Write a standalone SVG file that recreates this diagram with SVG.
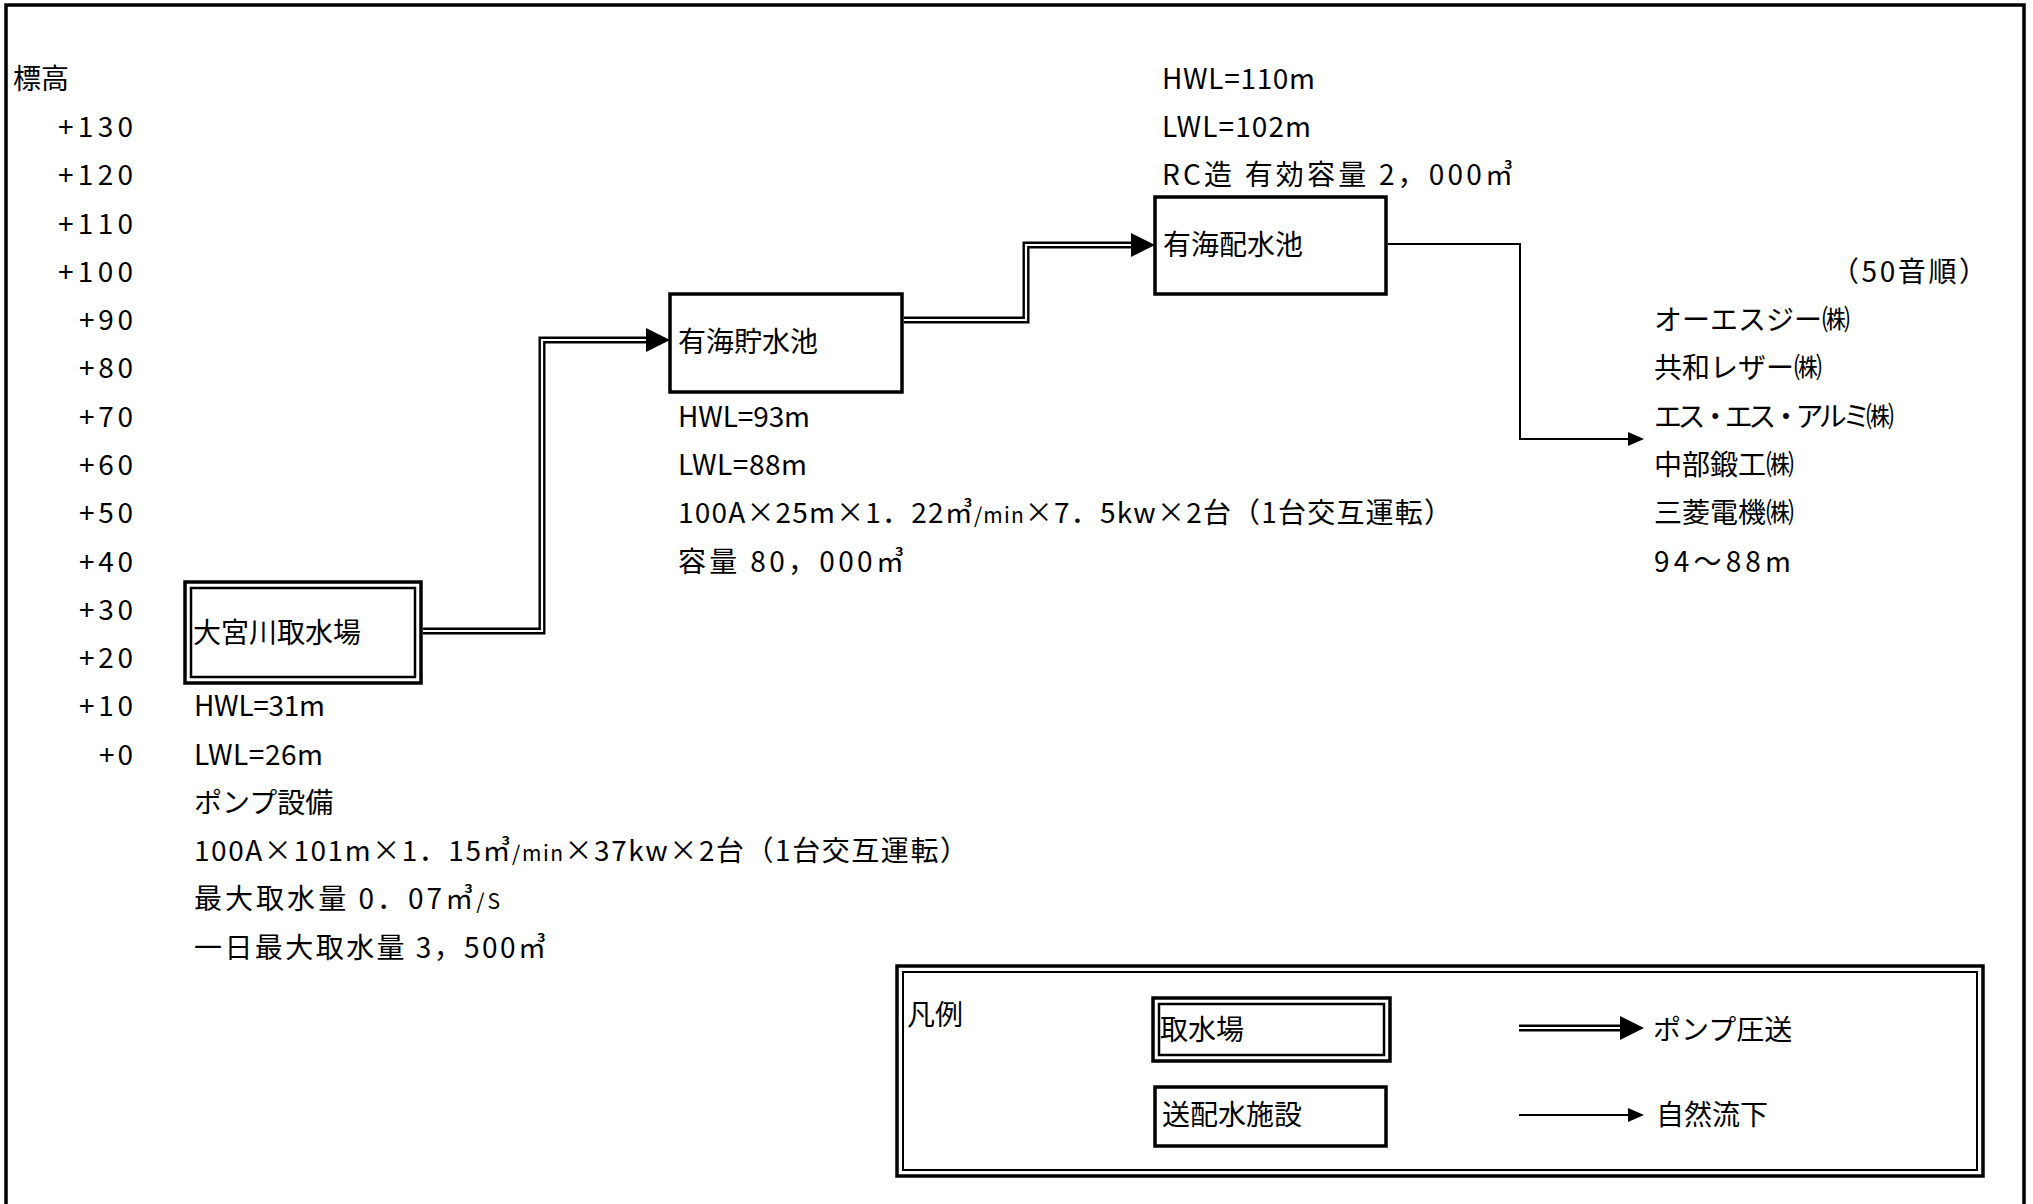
<svg xmlns="http://www.w3.org/2000/svg" width="2033" height="1204" viewBox="0 0 2033 1204">
<defs>
<style>
text { font-family: "Noto Sans CJK JP", "Noto Sans", sans-serif; font-size: 28px; fill: #000; }
.el { text-anchor: end; }
.sm { font-size: 21px; }
.box { fill: #fff; stroke: #000; stroke-width: 3.5; }
.inner { fill: none; stroke: #000; stroke-width: 2.5; }
.frame { fill: none; stroke: #000; stroke-width: 3.5; }
.pipe { fill: none; stroke: #000; stroke-width: 7; }
.pipe-in { fill: none; stroke: #fff; stroke-width: 2.2; }
.flow { fill: none; stroke: #000; stroke-width: 2; }
</style>
<marker id="ah-pump" markerUnits="userSpaceOnUse" viewBox="0 0 24 24" refX="8" refY="12" markerWidth="24" markerHeight="24" orient="auto"><path d="M0,0 L24,12 L0,24 z" fill="#000"/></marker>
<marker id="ah-flow" markerUnits="userSpaceOnUse" viewBox="0 0 16 14" refX="6" refY="7" markerWidth="16" markerHeight="14" orient="auto"><path d="M0,0 L16,7 L0,14 z" fill="#000"/></marker>
</defs>
<rect width="2033" height="1204" fill="#fff"/>
<path class="frame" d="M6,1204 V5 H2024 V1204"/>

<g id="elevation-scale">
<text x="13" y="89">標高</text>
<text class="el" x="133" y="137" textLength="75" lengthAdjust="spacing">+130</text>
<text class="el" x="133" y="185" textLength="75" lengthAdjust="spacing">+120</text>
<text class="el" x="133" y="234" textLength="75" lengthAdjust="spacing">+110</text>
<text class="el" x="133" y="282" textLength="75" lengthAdjust="spacing">+100</text>
<text class="el" x="133" y="330" textLength="54" lengthAdjust="spacing">+90</text>
<text class="el" x="133" y="378" textLength="54" lengthAdjust="spacing">+80</text>
<text class="el" x="133" y="427" textLength="54" lengthAdjust="spacing">+70</text>
<text class="el" x="133" y="475" textLength="54" lengthAdjust="spacing">+60</text>
<text class="el" x="133" y="523" textLength="54" lengthAdjust="spacing">+50</text>
<text class="el" x="133" y="572" textLength="54" lengthAdjust="spacing">+40</text>
<text class="el" x="133" y="620" textLength="54" lengthAdjust="spacing">+30</text>
<text class="el" x="133" y="668" textLength="54" lengthAdjust="spacing">+20</text>
<text class="el" x="133" y="716" textLength="54" lengthAdjust="spacing">+10</text>
<text class="el" x="133" y="765" textLength="34" lengthAdjust="spacing">+0</text>
</g>

<g id="connectors">
<path class="pipe" d="M423,631 H542 V340 H654" marker-end="url(#ah-pump)"/>
<path class="pipe-in" d="M423,631 H542 V340 H646"/>
<path class="pipe" d="M904,320 H1026 V245 H1139" marker-end="url(#ah-pump)"/>
<path class="pipe-in" d="M904,320 H1026 V245 H1131"/>
<path class="flow" d="M1388,244 H1520 V439 H1634" marker-end="url(#ah-flow)"/>
</g>

<g id="node-omiyagawa">
<rect class="box" x="185" y="582" width="236" height="101"/>
<rect class="inner" x="191" y="588" width="224" height="89"/>
<text x="193" y="643">大宮川取水場</text>
<text x="194" y="716" textLength="131" lengthAdjust="spacing">HWL=31m</text>
<text x="194" y="765" textLength="129" lengthAdjust="spacing">LWL=26m</text>
<text x="194" y="813">ポンプ設備</text>
<text x="194" y="861" textLength="774" lengthAdjust="spacing">100A×101m×1．15㎥<tspan class="sm">/min</tspan>×37kw×2台（1台交互運転）</text>
<text x="194" y="909" textLength="306" lengthAdjust="spacing">最大取水量  0．07㎥<tspan class="sm">/S</tspan></text>
<text x="194" y="958" textLength="352" lengthAdjust="spacing">一日最大取水量  3，500㎥</text>
</g>

<g id="node-arumi-storage">
<rect class="box" x="670" y="294" width="232" height="98"/>
<text x="678" y="352">有海貯水池</text>
<text x="678" y="427" textLength="132" lengthAdjust="spacing">HWL=93m</text>
<text x="678" y="475" textLength="129" lengthAdjust="spacing">LWL=88m</text>
<text x="678" y="523" textLength="774" lengthAdjust="spacing">100A×25m×1．22㎥<tspan class="sm">/min</tspan>×7．5kw×2台（1台交互運転）</text>
<text x="678" y="572" textLength="226" lengthAdjust="spacing">容量  80，000㎥</text>
</g>

<g id="node-arumi-distribution">
<rect class="box" x="1155" y="197" width="231" height="97"/>
<text x="1163" y="255">有海配水池</text>
<text x="1162" y="89" textLength="153" lengthAdjust="spacing">HWL=110m</text>
<text x="1162" y="137" textLength="149" lengthAdjust="spacing">LWL=102m</text>
<text x="1162" y="185" textLength="351" lengthAdjust="spacing">RC造  有効容量  2，000㎥</text>
</g>

<g id="node-customers">
<text x="1831" y="282" textLength="156" lengthAdjust="spacing">（50音順）</text>
<text x="1654" y="330">オーエスジー㈱</text>
<text x="1654" y="378">共和レザー㈱</text>
<text x="1654" y="427" textLength="240" lengthAdjust="spacing">エス・エス・アルミ㈱</text>
<text x="1654" y="475">中部鍛工㈱</text>
<text x="1654" y="523">三菱電機㈱</text>
<text x="1654" y="572" textLength="137" lengthAdjust="spacing">94〜88m</text>
</g>

<g id="legend">
<rect class="frame" x="897" y="966" width="1086" height="210"/>
<rect class="inner" x="903" y="972" width="1074" height="198" style="stroke-width:2"/>
<text x="907" y="1025">凡例</text>
<rect class="box" x="1153" y="998" width="237" height="63"/>
<rect class="inner" x="1159" y="1004" width="225" height="51"/>
<text x="1160" y="1040">取水場</text>
<rect class="box" x="1155" y="1087" width="231" height="59"/>
<text x="1162" y="1125">送配水施設</text>
<path class="pipe" d="M1519,1028 H1628" marker-end="url(#ah-pump)"/>
<path class="pipe-in" d="M1519,1028 H1620"/>
<text x="1653" y="1040">ポンプ圧送</text>
<path class="flow" d="M1519,1115 H1634" marker-end="url(#ah-flow)"/>
<text x="1656" y="1125">自然流下</text>
</g>
</svg>
